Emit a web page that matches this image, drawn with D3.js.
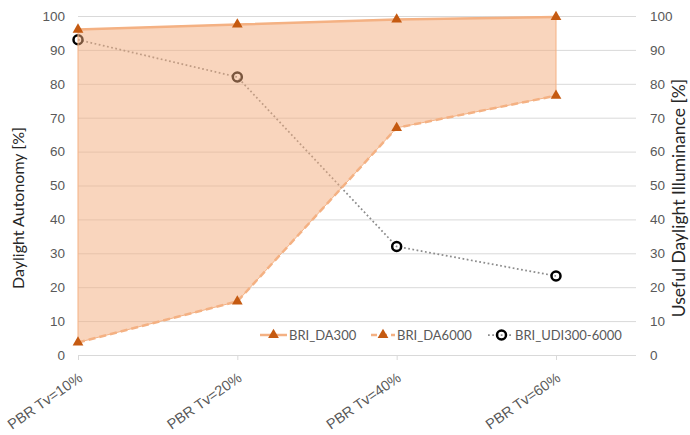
<!DOCTYPE html>
<html>
<head>
<meta charset="utf-8">
<script src="https://cdn.jsdelivr.net/npm/d3@7"></script>
<style>
  body { margin: 0; background: #fff; }
  svg { font-family: Lato, "Open Sans", sans-serif; }
  .tick text { fill: #595959; font-size: 13.5px; }
  .xaxis .tick text { font-size: 14.5px; }
</style>
</head>
<body>
<svg id="chart" width="690" height="435"></svg>
<script>
const categories = ["PBR Tv=10%", "PBR Tv=20%", "PBR Tv=40%", "PBR Tv=60%"];
const da300 = [96, 97.5, 99, 99.7];
const da6000 = [3.7, 15.8, 67, 76.5];
const udi = [93, 82, 32, 23.3];
const yTicks = [0, 10, 20, 30, 40, 50, 60, 70, 80, 90, 100];

const svg = d3.select("#chart");
const plotLeft = 78,
  plotRight = 636,
  plotTop = 16,
  plotBottom = 355;

const x = d3.scalePoint().domain(categories).range([plotLeft, 556]);
const y = d3.scaleLinear().domain([0, 100]).range([plotBottom, plotTop]);
const yR = d3.scaleLinear().domain([0, 100]).range([plotBottom, plotTop]);

const orange = "#f4b183";
const dark = "#c55a11";

// gridlines
svg
  .append("g")
  .attr("transform", `translate(${plotLeft},0)`)
  .call(d3.axisLeft(y).tickValues(yTicks).tickSize(-(plotRight - plotLeft)).tickFormat(""))
  .call((g) => g.select(".domain").remove())
  .selectAll("line")
  .attr("stroke", "#d9d9d9");

// left axis
svg
  .append("g")
  .attr("transform", `translate(${plotLeft},0)`)
  .call(d3.axisLeft(y).tickValues(yTicks).tickSize(0).tickPadding(13))
  .call((g) => g.select(".domain").remove());

// right axis
svg
  .append("g")
  .attr("transform", `translate(${plotRight},0)`)
  .call(d3.axisRight(yR).tickValues(yTicks).tickSize(0).tickPadding(14))
  .call((g) => g.select(".domain").remove());

// x axis
const gx = svg
  .append("g")
  .attr("class", "xaxis")
  .attr("transform", `translate(0,${plotBottom})`)
  .call(d3.axisBottom(x).tickSize(5).tickPadding(0))
  .call((g) => g.select(".domain").remove());
gx.selectAll("line").attr("stroke", "#d9d9d9");
gx.selectAll("text")
  .attr("text-anchor", "end")
  .attr("dy", 0)
  .attr("y", 0)
  .attr("transform", "translate(5,25) rotate(-35)");

// UDI series (under the area)
const udiLine = d3
  .line()
  .x((d, i) => x(categories[i]))
  .y((d) => yR(d));
svg
  .append("path")
  .datum(udi)
  .attr("d", udiLine)
  .attr("fill", "none")
  .attr("stroke", "#8c8c8c")
  .attr("stroke-width", 1.75)
  .attr("stroke-dasharray", "1.75,2.5");
svg
  .selectAll("circle.udi")
  .data(udi)
  .enter()
  .append("circle")
  .attr("class", "udi")
  .attr("cx", (d, i) => x(categories[i]))
  .attr("cy", (d) => yR(d))
  .attr("r", 4.5)
  .attr("fill", "none")
  .attr("stroke", "#000")
  .attr("stroke-width", 2.5);

// area between DA6000 and DA300
const area = d3
  .area()
  .x((d, i) => x(categories[i]))
  .y0((d, i) => y(da6000[i]))
  .y1((d) => y(d));
svg
  .append("path")
  .datum(da300)
  .attr("d", area)
  .attr("fill", "#f4ac7c")
  .attr("fill-opacity", 0.5)
  .attr("stroke", orange)
  .attr("stroke-width", 1);

const line = d3
  .line()
  .x((d, i) => x(categories[i]))
  .y((d) => y(d));
svg
  .append("path")
  .datum(da300)
  .attr("d", line)
  .attr("fill", "none")
  .attr("stroke", orange)
  .attr("stroke-width", 2.5);
svg
  .append("path")
  .datum(da6000)
  .attr("d", line)
  .attr("fill", "none")
  .attr("stroke", orange)
  .attr("stroke-width", 2.5)
  .attr("stroke-dasharray", "7,4");

const tri = d3.symbol().type(d3.symbolTriangle).size(50);
[da300, da6000].forEach((s) => {
  svg
    .append("g")
    .selectAll("path")
    .data(s)
    .enter()
    .append("path")
    .attr("d", tri)
    .attr("transform", (d, i) => `translate(${x(categories[i])},${y(d)})`)
    .attr("fill", dark);
});

// legend
const legend = [
  { name: "BRI_DA300", x: 260, w: 27, dash: null, kind: "tri" },
  { name: "BRI_DA6000", x: 371, w: 24, dash: "6,4", kind: "tri" },
  { name: "BRI_UDI300-6000", x: 488, w: 25, dash: "1.75,2.5", kind: "circle" },
];
const lg = svg.append("g").attr("transform", "translate(0,335)");
legend.forEach((d) => {
  const g = lg.append("g").attr("transform", `translate(${d.x},0)`);
  g.append("line")
    .attr("x1", 0)
    .attr("x2", d.w)
    .attr("stroke", d.kind === "tri" ? orange : "#8c8c8c")
    .attr("stroke-width", d.kind === "tri" ? 2.5 : 1.75)
    .attr("stroke-dasharray", d.dash);
  if (d.kind === "tri") {
    g.append("path").attr("d", tri).attr("transform", `translate(${d.w / 2},0)`).attr("fill", dark);
  } else {
    g.append("circle")
      .attr("cx", d.w / 2 + 1)
      .attr("r", 4.5)
      .attr("fill", "none")
      .attr("stroke", "#000")
      .attr("stroke-width", 2.5);
  }
  g.append("text")
    .attr("x", d.w + 2)
    .attr("dy", "0.35em")
    .attr("fill", "#595959")
    .style("font-size", "13px")
    .text(d.name);
});

// axis titles
svg
  .append("text")
  .attr("transform", "translate(24,208) rotate(-90)")
  .attr("text-anchor", "middle")
  .attr("fill", "#262626")
  .style("font-size", "16px")
  .text("Daylight Autonomy [%]");
svg
  .append("text")
  .attr("transform", "translate(685,198) rotate(-90)")
  .attr("text-anchor", "middle")
  .attr("fill", "#262626")
  .style("font-size", "17.5px")
  .text("Useful Daylight Illuminance [%]");
</script>
</body>
</html>
